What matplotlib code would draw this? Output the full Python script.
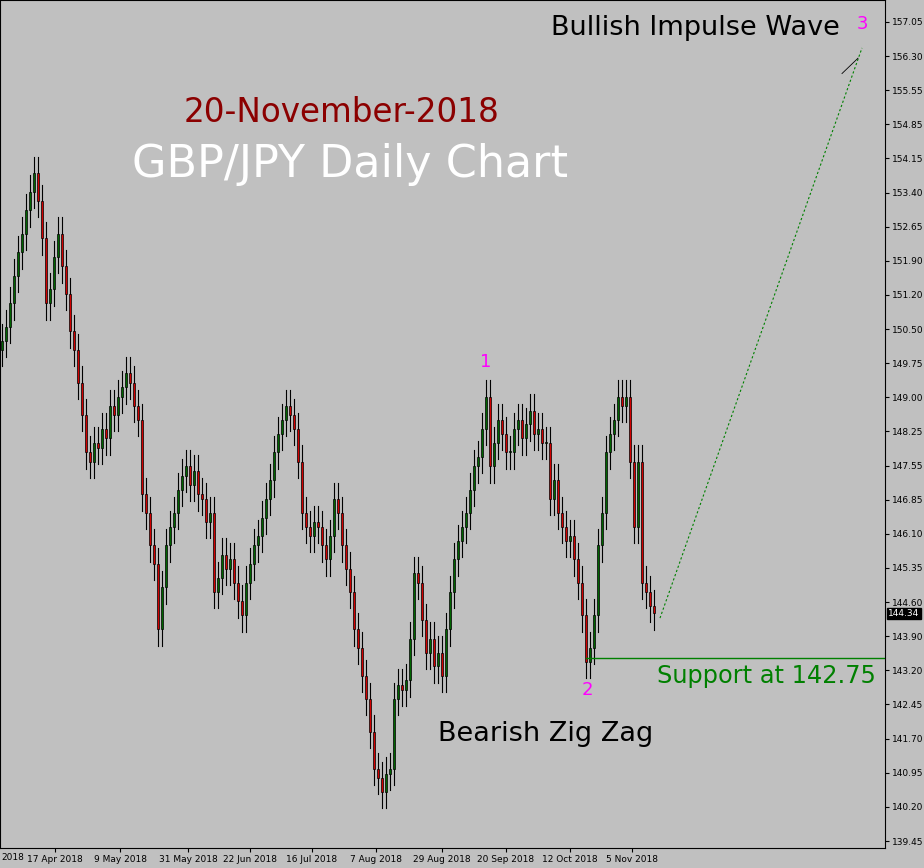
import matplotlib
matplotlib.use("Agg")
import matplotlib.pyplot as plt
import numpy as np

closes = [150.2,150.5,151.0,151.6,152.1,152.5,153.0,153.4,153.8,153.2,
152.4,151.0,151.3,152.0,152.5,151.8,151.2,150.4,150.0,149.3,
148.6,147.8,147.6,148.0,147.9,148.3,148.1,148.8,148.6,149.0,
149.2,149.5,149.3,148.8,148.5,146.9,146.5,145.8,145.4,144.0,
144.9,145.8,146.2,146.5,147.0,147.3,147.5,147.1,147.4,146.9,
146.8,146.3,146.5,144.8,145.1,145.6,145.3,145.5,145.0,144.6,
144.3,145.0,145.4,145.8,146.0,146.4,146.8,147.2,147.8,148.2,
148.5,148.8,148.6,148.3,147.6,146.5,146.2,146.0,146.3,146.2,
145.8,145.5,146.0,146.8,146.5,145.8,145.3,144.8,144.0,143.6,
143.0,142.5,141.8,141.0,140.8,140.5,140.9,141.0,142.5,142.8,
142.7,142.9,143.8,145.2,145.0,144.2,143.5,143.8,143.2,143.5,
143.0,144.0,144.8,145.5,145.9,146.2,146.5,147.0,147.5,147.7,
148.3,149.0,147.5,148.0,148.5,148.2,147.8,147.8,148.3,148.5,
148.1,148.4,148.7,148.2,148.3,148.0,148.0,146.8,147.2,146.5,
146.2,145.9,146.0,145.5,145.0,144.3,143.3,143.6,144.3,145.8,
146.5,147.8,148.2,148.5,149.0,148.8,149.0,147.6,146.2,147.6,
145.0,144.8,144.5,144.34]
first_open = 150.0
wick = 0.35
date_labels = ["17 Apr 2018","9 May 2018","31 May 2018","22 Jun 2018","16 Jul 2018",
               "7 Aug 2018","29 Aug 2018","20 Sep 2018","12 Oct 2018","5 Nov 2018"]
date_idx = [13.25,29.5,46.5,62,77.5,93.5,110,126,142,157.5]
price_labels = ["157.05","156.30","155.55","154.85","154.15","153.40","152.65","151.90",
                "151.20","150.50","149.75","149.00","148.25","147.55","146.85","146.10",
                "145.35","144.60","143.90","143.20","142.45","141.70","140.95","140.20","139.45"]
support_drawn = 143.38
wave_points = {"1": (121, 149.75), "2": (146.3, 142.7), "3": (215, 157.0)}

fig = plt.figure(figsize=(9.24, 8.68), dpi=100)
fig.patch.set_facecolor("#c0c0c0")
ax = fig.add_axes([0, 20/868, 885/924, 848/868])
ax.set_facecolor("#c0c0c0")
opens = [first_open] + closes[:-1]
for i, (o, c) in enumerate(zip(opens, closes)):
    hi, lo = max(o, c) + wick, min(o, c) - wick
    ax.plot([i, i], [lo, hi], color="black", lw=0.8, zorder=1)
    col = "#006400" if c >= o else "#d00000"
    ax.add_patch(plt.Rectangle((i - 0.35, min(o, c)), 0.7, max(abs(c - o), 0.03),
                               facecolor=col, edgecolor="black", lw=0.5, zorder=2))
ax.set_xlim(-0.5, -0.5 + 885/4)
ax.set_ylim(139.3, 157.52)
ax.yaxis.tick_right()
yt = np.linspace(157.05, 139.45, len(price_labels))
ax.set_yticks(yt)
ax.set_yticklabels(price_labels, fontsize=6.5)
ax.set_xticks(date_idx)
ax.set_xticklabels(date_labels, fontsize=6.5)
ax.tick_params(length=3, pad=2)
fig.text(1/924, 1-857/868, "2018", fontsize=6.5, ha="left", va="center")
for s in ax.spines.values():
    s.set_color("black"); s.set_linewidth(0.8)

ax.text(221.5, closes[-1], f"{closes[-1]:.2f}", fontsize=6.5, color="white",
        va="center", ha="left", bbox=dict(facecolor="black", edgecolor="black", pad=1), clip_on=False)

ax.plot([146, 220.75], [support_drawn]*2, color="green", lw=1)
ax.plot([164.5, 215], [144.24, 156.49], color="green", lw=0.8, ls=(0, (2, 2)))
ax.plot([210, 214], [155.94, 156.27], color="black", lw=0.6)
for k, (x, y) in wave_points.items():
    ax.text(x, y, k, color="magenta", fontsize=13, ha="center", va="center")

fig.text(342/924, 1-112/868, "20-November-2018", color="#8b0000", fontsize=23.5, ha="center", va="center")
fig.text(350/924, 1-165/868, "GBP/JPY Daily Chart", color="white", fontsize=32, ha="center", va="center")
fig.text(695/924, 1-28/868, "Bullish Impulse Wave", color="black", fontsize=19.5, ha="center", va="center")
fig.text(766/924, 1-676/868, "Support at 142.75", color="green", fontsize=17.3, ha="center", va="center")
fig.text(546/924, 1-734/868, "Bearish Zig Zag", color="black", fontsize=19.5, ha="center", va="center")
fig.savefig("out.png", dpi=100, facecolor=fig.get_facecolor())
